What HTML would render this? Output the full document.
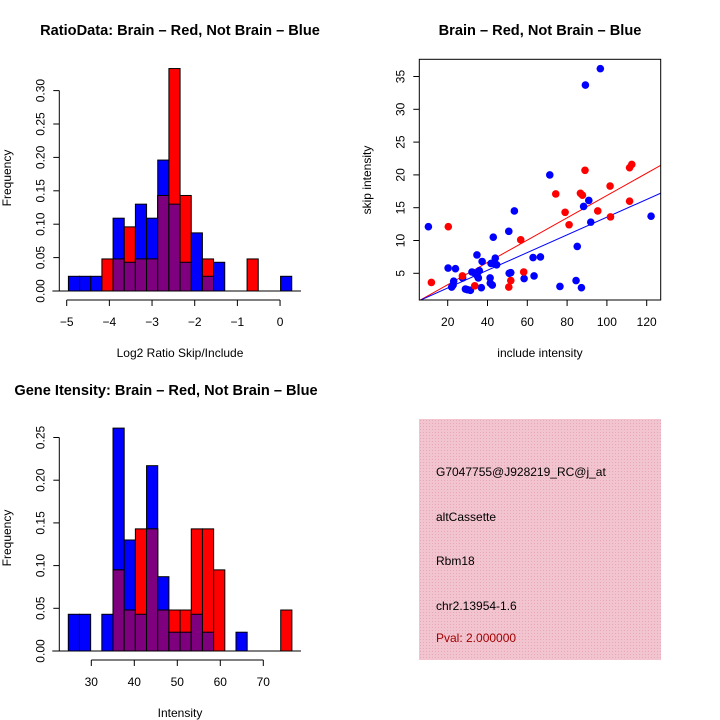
<!DOCTYPE html>
<html><head><meta charset="utf-8"><style>
body{margin:0;background:#fff}
svg{display:block;font-family:"Liberation Sans",sans-serif}
</style></head><body>
<svg id="c" width="720" height="720" viewBox="0 0 720 720">
<defs><pattern id="hatch" width="3" height="3" patternUnits="userSpaceOnUse"><rect width="3" height="3" fill="#f2c4cf"/><rect width="1" height="1" fill="#e7a9b8"/></pattern></defs>
<g id="g1"></g>
<g id="g2"></g>
<g id="g3"></g>
<g>
<rect x="419" y="419" width="242" height="241" fill="url(#hatch)"/>
<text x="436" y="476" font-size="12">G7047755@J928219_RC@j_at</text>
<text x="436" y="521" font-size="12">altCassette</text>
<text x="436" y="565" font-size="12">Rbm18</text>
<text x="436" y="610" font-size="12">chr2.13954-1.6</text>
<text x="436" y="642" font-size="12" fill="#a00000">Pval: 2.000000</text>
</g>
</svg>
<script>
// Histogram 1 data
const h1Start=-4.96, h1Width=0.2617;
const h1Blue=[0.022,0.022,0.022,0,0.109,0.043,0.130,0.109,0.196,0.130,0.043,0.087,0.022,0.043,0,0,0,0,0,0.022];
const h1Red=[0,0,0,0.048,0.048,0.096,0.048,0.048,0.143,0.333,0.143,0,0.048,0,0,0,0.048,0,0,0];
const h1XTicks=[-5,-4,-3,-2,-1,0];
const h1XLabels=["\u22125","\u22124","\u22123","\u22122","\u22121","0"];
const h1YTicks=[0,0.05,0.10,0.15,0.20,0.25,0.30];
const h1YLabels=["0.00","0.05","0.10","0.15","0.20","0.25","0.30"];
// Histogram 2 data
const h2Start=24.65, h2Width=2.6;
const h2Blue=[0.043,0.043,0,0.043,0.261,0.130,0.043,0.217,0.087,0.022,0.022,0.043,0.022,0,0,0.022,0,0,0,0];
const h2Red=[0,0,0,0,0.095,0.048,0.143,0.143,0.048,0.048,0.048,0.143,0.143,0.095,0,0,0,0,0,0.048];
const h2XTicks=[30,40,50,60,70];
const h2XLabels=["30","40","50","60","70"];
const h2YTicks=[0,0.05,0.10,0.15,0.20,0.25];
const h2YLabels=["0.00","0.05","0.10","0.15","0.20","0.25"];
// Scatter data
const blueX=[10.3,20.2,23.9,23,22,22.7,27.5,28.9,29.9,31.4,32.2,34.7,33.7,34.9,35.4,35.9,37.3,36.9,41.3,41.4,42.4,41.8,42.9,43.9,44.6,43.6,50.7,50.9,51.7,53.5,58.4,62.9,63.4,66.6,71.3,76.4,84.5,85.1,87.2,88.3,89.2,90.9,91.9,96.7,122.2];
const blueY=[12.1,5.8,5.7,3.8,2.9,3.2,4.3,2.6,2.5,2.4,5.2,7.8,5.0,4.6,4.3,5.4,6.8,2.8,4.3,3.5,3.2,6.5,10.5,7.3,6.3,6.5,11.4,5.0,5.1,14.5,4.2,7.4,4.6,7.5,20.0,3.0,3.9,9.1,2.8,15.2,33.7,16.1,12.8,36.2,13.7];
const redX=[11.8,20.3,27.4,33.6,50.7,51.7,56.7,58.2,74.3,79,81,86.7,87.7,89,95.4,101.6,101.8,111.4,112.5,111.4];
const redY=[3.6,12.1,4.6,3.1,2.9,3.9,10.1,5.2,17.1,14.3,12.4,17.2,16.9,20.7,14.5,18.3,13.6,21.1,21.6,16.0];
const fitRed=[-0.14,0.170];   // intercept, slope
const fitBlue=[0.06,0.135];
const scXTicks=[20,40,60,80,100,120];
const scYTicks=[5,10,15,20,25,30,35];

const NS="http://www.w3.org/2000/svg";
function mk(p,tag,a){const e=document.createElementNS(NS,tag);for(const k in a)e.setAttribute(k,a[k]);p.appendChild(e);return e;}
function txt(p,x,y,s,size,extra){const e=mk(p,'text',Object.assign({x:x,y:y,'font-size':size,'text-anchor':'middle'},extra||{}));e.textContent=s;return e;}

function hist(g,o){
  const sx=v=>o.x0+(v-o.xa)*o.kx, sy=v=>o.y0-v*o.ky;
  const n=o.blue.length;
  for(let i=0;i<n;i++){
    const x1=sx(o.start+i*o.w), x2=sx(o.start+(i+1)*o.w);
    const b=o.blue[i], r=o.red[i], m=Math.min(b,r);
    if(b>0){const e=mk(g,'rect',{x:x1,y:sy(b),width:x2-x1,height:sy(0)-sy(b),fill:'#0000ff',stroke:'#000','stroke-width':1});
      
      }
    if(r>0){const e=mk(g,'rect',{x:x1,y:sy(r),width:x2-x1,height:sy(0)-sy(r),fill:'#ff0000',stroke:'#000','stroke-width':1});
      
      }
    if(m>0){const e=mk(g,'rect',{x:x1,y:sy(m),width:x2-x1,height:sy(0)-sy(m),fill:'#7f007f',stroke:'#000','stroke-width':1});
      
      }
  }
  mk(g,'line',{x1:sx(o.start)-16,x2:o.baseEnd,y1:sy(0),y2:sy(0),stroke:'#000'});
  const xa=mk(g,'g',{});
  
  
  const t=o.xt;
  mk(xa,'line',{x1:sx(t[0]),x2:sx(t[t.length-1]),y1:o.axY,y2:o.axY,stroke:'#000'});
  t.forEach((v,i)=>{mk(xa,'line',{x1:sx(v),x2:sx(v),y1:o.axY,y2:o.axY+6,stroke:'#000'});
    const e=txt(xa,sx(v),o.axY+26,o.xl[i],12);
    
    });
  const ya=mk(g,'g',{});
  
  
  const yt=o.yt;
  mk(ya,'line',{x1:o.ayX,x2:o.ayX,y1:sy(yt[0]),y2:sy(yt[yt.length-1]),stroke:'#000'});
  yt.forEach((v,i)=>{mk(ya,'line',{x1:o.ayX,x2:o.ayX-6,y1:sy(v),y2:sy(v),stroke:'#000'});
    const e=txt(ya,o.ayX-15,sy(v),o.yl[i],12,{transform:`rotate(-90 ${o.ayX-15} ${sy(v)})`});
    
    });
  let e=txt(g,o.xTitleX,o.xTitleY,o.xTitle,12);
  
  
  e=txt(g,11,o.yTitleY,'Frequency',12,{transform:`rotate(-90 11 ${o.yTitleY})`});
  
  
  e=txt(g,o.titleX,o.titleY,o.title,14.6,{'font-weight':'bold'});
  
  
}

hist(document.getElementById('g1'),{x0:66.7,xa:-5,kx:42.67,y0:291,ky:668,start:h1Start,w:h1Width,blue:h1Blue,red:h1Red,
  baseEnd:301,xt:h1XTicks,xl:h1XLabels,axY:300,yt:h1YTicks,yl:h1YLabels,ayX:59.3,
  xTitle:'Log2 Ratio Skip/Include',xTitleX:180,xTitleY:357,yTitleY:178,title:'RatioData: Brain \u2013 Red, Not Brain \u2013 Blue',titleX:180,titleY:35});
hist(document.getElementById('g3'),{x0:91.3,xa:30,kx:4.3,y0:651,ky:854,start:h2Start,w:h2Width,blue:h2Blue,red:h2Red,
  baseEnd:301,xt:h2XTicks,xl:h2XLabels,axY:660,yt:h2YTicks,yl:h2YLabels,ayX:59.3,
  xTitle:'Intensity',xTitleX:180,xTitleY:717,yTitleY:538,title:'Gene Itensity: Brain \u2013 Red, Not Brain \u2013 Blue',titleX:166,titleY:395});

(function(){
  const g=document.getElementById('g2');
  const L=419.3,R=660.7,T=59.3,B=300;
  const sx=v=>447.7+(v-20)*1.99, sy=v=>273.3-(v-5)*6.56;
  const cp=mk(g,'clipPath',{id:'sc'});mk(cp,'rect',{x:L,y:T,width:R-L,height:B-T});
  const lines=[[fitRed,'#ff0000','red-fit-line'],[fitBlue,'#0000ff','blue-fit-line']];
  lines.forEach(([f,c,n])=>{const x1=0,x2=140;
    const e=mk(g,'line',{x1:sx(x1),y1:sy(f[0]+f[1]*x1),x2:sx(x2),y2:sy(f[0]+f[1]*x2),stroke:c,'clip-path':'url(#sc)'});
    
    });
  blueX.forEach((x,i)=>{const e=mk(g,'circle',{cx:sx(x),cy:sy(blueY[i]),r:3.8,fill:'#0000ff'});
    
    });
  redX.forEach((x,i)=>{const e=mk(g,'circle',{cx:sx(x),cy:sy(redY[i]),r:3.8,fill:'#ff0000'});
    
    });
  const f=mk(g,'rect',{x:L,y:T,width:R-L,height:B-T,fill:'none',stroke:'#000'});
  
  
  scXTicks.forEach(v=>{mk(g,'line',{x1:sx(v),x2:sx(v),y1:B,y2:B+6,stroke:'#000'});
    const e=txt(g,sx(v),B+26,String(v),12);
    
    });
  scYTicks.forEach(v=>{mk(g,'line',{x1:L,x2:L-6,y1:sy(v),y2:sy(v),stroke:'#000'});
    const e=txt(g,L-15,sy(v),String(v),12,{transform:`rotate(-90 ${L-15} ${sy(v)})`});
    
    });
  let e=txt(g,540,357,'include intensity',12);
  
  
  e=txt(g,371,180,'skip intensity',12,{transform:'rotate(-90 371 180)'});
  
  
  e=txt(g,540,35,'Brain \u2013 Red, Not Brain \u2013 Blue',14.6,{'font-weight':'bold'});
  
  
})();
</script>
</body></html>
